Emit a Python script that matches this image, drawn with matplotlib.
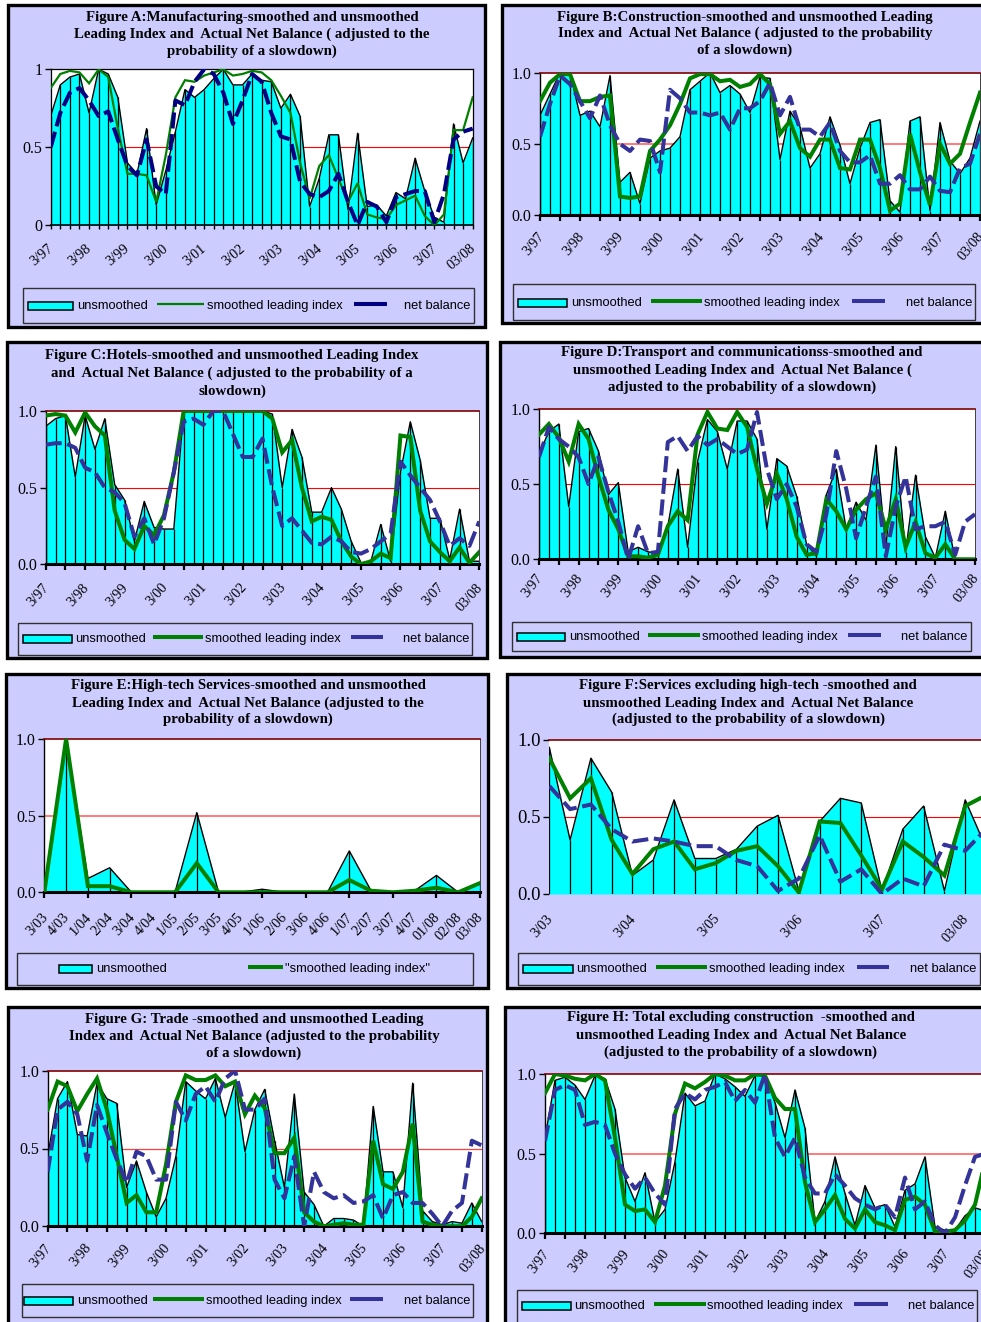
import matplotlib
matplotlib.use("Agg")
import matplotlib.pyplot as plt
from matplotlib.patches import Rectangle
from matplotlib.lines import Line2D
from matplotlib.transforms import ScaledTranslation

# ---------------- data ----------------
quarter_labels = ["3/97", "3/98", "3/99", "3/00", "3/01", "3/02", "3/03",
                  "3/04", "3/05", "3/06", "3/07", "03/08"]
e_labels = ["3/03", "4/03", "1/04", "2/04", "3/04", "4/04", "1/05", "2/05",
            "3/05", "4/05", "1/06", "2/06", "3/06", "4/06", "1/07", "2/07",
            "3/07", "4/07", "01/08", "02/08", "03/08"]
f_labels = ["3/03", "3/04", "3/05", "3/06", "3/07", "03/08"]

a_unsmoothed = [0.70, 0.90, 0.95, 0.97, 0.72, 1.00, 0.97, 0.82, 0.40, 0.33, 0.62, 0.13, 0.35, 0.60, 0.87,
                0.82, 0.87, 0.94, 1.00, 0.90, 0.90, 0.97, 0.93, 0.92, 0.75, 0.84, 0.70, 0.12, 0.30, 0.58,
                0.58, 0.10, 0.59, 0.12, 0.13, 0.06, 0.21, 0.17, 0.43, 0.22, 0.05, 0.02, 0.65, 0.40, 0.56]
a_smoothed = [0.88, 0.97, 0.99, 0.98, 0.91, 1.00, 0.95, 0.62, 0.33, 0.33, 0.32, 0.15, 0.45, 0.82, 0.93,
              0.92, 0.96, 0.98, 1.00, 0.96, 0.97, 0.99, 0.98, 0.93, 0.83, 0.72, 0.40, 0.17, 0.38, 0.45,
              0.30, 0.15, 0.27, 0.07, 0.05, 0.04, 0.13, 0.16, 0.19, 0.06, 0.00, 0.07, 0.61, 0.61, 0.82]
a_net = [0.50, 0.72, 0.85, 0.88, 0.80, 0.70, 0.73, 0.55, 0.38, 0.32, 0.55, 0.25, 0.20, 0.80, 0.77,
         0.92, 1.00, 0.97, 0.85, 0.65, 0.80, 0.97, 0.92, 0.72, 0.57, 0.55, 0.28, 0.20, 0.18, 0.22,
         0.33, 0.15, 0.00, 0.15, 0.12, 0.02, 0.18, 0.20, 0.22, 0.22, 0.02, 0.20, 0.55, 0.60, 0.62]

b_unsmoothed = [0.70, 0.85, 1.00, 1.00, 0.70, 0.73, 0.62, 0.98, 0.23, 0.30, 0.08, 0.40, 0.45, 0.47, 0.55,
                0.88, 0.94, 1.00, 0.86, 0.91, 0.85, 0.72, 0.97, 0.96, 0.39, 0.73, 0.62, 0.33, 0.43, 0.69,
                0.49, 0.22, 0.47, 0.65, 0.67, 0.10, 0.02, 0.66, 0.69, 0.03, 0.65, 0.38, 0.29, 0.40, 0.66]
b_smoothed = [0.80, 0.93, 0.99, 0.99, 0.80, 0.80, 0.83, 0.84, 0.13, 0.12, 0.13, 0.45, 0.53, 0.63, 0.78,
              0.96, 0.99, 0.99, 0.94, 0.95, 0.90, 0.92, 0.99, 0.92, 0.57, 0.66, 0.47, 0.41, 0.53, 0.53,
              0.33, 0.32, 0.53, 0.53, 0.33, 0.03, 0.08, 0.57, 0.30, 0.07, 0.50, 0.36, 0.43, 0.65, 0.86]
b_net = [0.55, 0.78, 0.98, 0.92, 0.80, 0.68, 0.84, 0.63, 0.50, 0.45, 0.53, 0.52, 0.30, 0.88, 0.82,
         0.72, 0.72, 0.70, 0.72, 0.60, 0.75, 0.75, 0.80, 0.93, 0.70, 0.83, 0.60, 0.60, 0.55, 0.65,
         0.45, 0.37, 0.37, 0.42, 0.22, 0.22, 0.28, 0.18, 0.18, 0.27, 0.17, 0.16, 0.33, 0.36, 0.57]

c_unsmoothed = [0.90, 0.95, 0.97, 0.57, 0.97, 0.75, 0.95, 0.52, 0.42, 0.15, 0.41, 0.24, 0.23, 0.23, 1.00,
                1.00, 1.00, 1.00, 1.00, 1.00, 1.00, 1.00, 1.00, 0.98, 0.50, 0.88, 0.70, 0.34, 0.34, 0.50,
                0.36, 0.15, 0.01, 0.02, 0.26, 0.02, 0.60, 0.93, 0.68, 0.30, 0.30, 0.03, 0.36, 0.02, 0.02]
c_smoothed = [0.97, 0.98, 0.97, 0.86, 0.99, 0.90, 0.84, 0.35, 0.16, 0.10, 0.25, 0.19, 0.32, 0.60, 1.00,
              1.00, 1.00, 1.00, 1.00, 1.00, 1.00, 1.00, 1.00, 0.95, 0.73, 0.81, 0.50, 0.28, 0.31, 0.29,
              0.15, 0.05, 0.00, 0.02, 0.07, 0.04, 0.84, 0.83, 0.35, 0.15, 0.08, 0.02, 0.11, 0.01, 0.08]
c_net = [0.78, 0.79, 0.79, 0.76, 0.63, 0.60, 0.50, 0.47, 0.40, 0.18, 0.30, 0.13, 0.30, 0.60, 0.93,
         0.95, 0.91, 1.00, 1.00, 0.85, 0.70, 0.70, 0.82, 0.50, 0.25, 0.30, 0.22, 0.14, 0.13, 0.18,
         0.15, 0.08, 0.07, 0.10, 0.15, 0.20, 0.67, 0.58, 0.50, 0.42, 0.28, 0.12, 0.17, 0.12, 0.28]

d_unsmoothed = [0.70, 0.85, 0.90, 0.35, 0.85, 0.87, 0.72, 0.43, 0.51, 0.05, 0.08, 0.05, 0.04, 0.22, 0.60,
                0.08, 0.65, 0.93, 0.85, 0.60, 0.92, 0.92, 0.80, 0.20, 0.67, 0.62, 0.42, 0.10, 0.02, 0.43,
                0.60, 0.20, 0.38, 0.26, 0.76, 0.08, 0.75, 0.05, 0.56, 0.15, 0.01, 0.32, 0.00, 0.00, 0.00]
d_smoothed = [0.83, 0.90, 0.81, 0.65, 0.90, 0.80, 0.55, 0.33, 0.20, 0.02, 0.02, 0.01, 0.03, 0.22, 0.32,
              0.26, 0.83, 0.98, 0.87, 0.86, 0.98, 0.88, 0.60, 0.37, 0.57, 0.40, 0.15, 0.03, 0.04, 0.40,
              0.32, 0.20, 0.33, 0.40, 0.44, 0.20, 0.40, 0.08, 0.25, 0.04, 0.01, 0.10, 0.00, 0.00, 0.00]
d_net = [0.68, 0.88, 0.80, 0.75, 0.68, 0.50, 0.68, 0.45, 0.25, 0.00, 0.22, 0.04, 0.05, 0.78, 0.82,
         0.72, 0.82, 0.76, 0.80, 0.75, 0.70, 0.73, 0.98, 0.60, 0.40, 0.50, 0.35, 0.10, 0.05, 0.30,
         0.72, 0.47, 0.14, 0.35, 0.55, 0.02, 0.35, 0.55, 0.20, 0.22, 0.22, 0.25, 0.03, 0.25, 0.30]

e_unsmoothed = [0.00, 1.00, 0.09, 0.16, 0.00, 0.00, 0.00, 0.52, 0.00, 0.00, 0.02,
                0.00, 0.00, 0.00, 0.27, 0.01, 0.00, 0.01, 0.11, 0.00, 0.06]
e_smoothed = [0.00, 1.00, 0.04, 0.04, 0.00, 0.00, 0.00, 0.19, 0.00, 0.00, 0.00,
              0.00, 0.00, 0.00, 0.08, 0.01, 0.00, 0.01, 0.03, 0.00, 0.06]

f_unsmoothed = [0.95, 0.35, 0.88, 0.66, 0.12, 0.22, 0.61, 0.23, 0.23, 0.29, 0.44,
                0.51, 0.02, 0.47, 0.62, 0.59, 0.02, 0.42, 0.57, 0.02, 0.61, 0.30]
f_smoothed = [0.88, 0.62, 0.75, 0.35, 0.13, 0.29, 0.34, 0.16, 0.20, 0.28, 0.31,
              0.18, 0.01, 0.47, 0.46, 0.25, 0.03, 0.34, 0.24, 0.12, 0.57, 0.64]
f_net = [0.70, 0.55, 0.58, 0.42, 0.34, 0.36, 0.34, 0.31, 0.31, 0.22, 0.18,
         0.02, 0.10, 0.38, 0.08, 0.16, 0.00, 0.10, 0.05, 0.32, 0.28, 0.42]

g_unsmoothed = [0.45, 0.82, 0.93, 0.59, 0.58, 0.92, 0.82, 0.79, 0.25, 0.42, 0.22, 0.06, 0.18, 0.45, 0.93,
                0.87, 0.82, 0.95, 0.70, 0.93, 0.48, 0.75, 0.88, 0.55, 0.25, 0.85, 0.22, 0.14, 0.00, 0.05,
                0.05, 0.04, 0.00, 0.77, 0.35, 0.35, 0.12, 0.92, 0.10, 0.03, 0.01, 0.03, 0.02, 0.15, 0.03]
g_smoothed = [0.75, 0.93, 0.90, 0.74, 0.85, 0.95, 0.75, 0.45, 0.15, 0.20, 0.09, 0.09, 0.40, 0.80, 0.97,
              0.94, 0.94, 0.97, 0.90, 0.93, 0.72, 0.84, 0.76, 0.47, 0.47, 0.57, 0.09, 0.03, 0.00, 0.01,
              0.02, 0.01, 0.01, 0.55, 0.27, 0.24, 0.35, 0.66, 0.03, 0.01, 0.00, 0.00, 0.00, 0.06, 0.18]
g_net = [0.35, 0.75, 0.80, 0.72, 0.42, 0.78, 0.60, 0.43, 0.28, 0.48, 0.45, 0.30, 0.30, 0.80, 0.68,
         0.85, 0.90, 0.80, 0.95, 1.00, 0.75, 0.75, 0.82, 0.30, 0.18, 0.45, 0.00, 0.35, 0.22, 0.18,
         0.20, 0.15, 0.16, 0.20, 0.05, 0.20, 0.22, 0.15, 0.15, 0.08, 0.00, 0.10, 0.15, 0.55, 0.52]

h_unsmoothed = [0.60, 0.96, 0.98, 0.93, 0.84, 0.99, 0.97, 0.78, 0.35, 0.20, 0.38, 0.07, 0.15, 0.45, 0.88,
                0.80, 0.83, 1.00, 0.97, 0.92, 0.86, 0.99, 0.99, 0.82, 0.60, 0.90, 0.66, 0.07, 0.20, 0.48,
                0.25, 0.05, 0.30, 0.16, 0.18, 0.04, 0.27, 0.31, 0.48, 0.04, 0.02, 0.02, 0.11, 0.16, 0.14]
h_smoothed = [0.88, 1.00, 0.99, 0.97, 0.96, 1.00, 0.96, 0.60, 0.18, 0.14, 0.15, 0.07, 0.30, 0.75, 0.94,
              0.91, 0.95, 1.00, 0.99, 0.96, 0.96, 1.00, 0.99, 0.85, 0.78, 0.78, 0.32, 0.07, 0.15, 0.24,
              0.09, 0.03, 0.15, 0.07, 0.05, 0.02, 0.21, 0.23, 0.18, 0.01, 0.01, 0.02, 0.08, 0.18, 0.45]
h_net = [0.58, 0.90, 0.93, 0.90, 0.68, 0.70, 0.68, 0.50, 0.37, 0.28, 0.35, 0.25, 0.18, 0.78, 0.88,
         0.84, 0.90, 0.92, 0.95, 0.83, 0.90, 0.82, 1.00, 0.60, 0.48, 0.60, 0.35, 0.25, 0.25, 0.37,
         0.30, 0.22, 0.18, 0.15, 0.18, 0.10, 0.35, 0.15, 0.20, 0.05, 0.00, 0.10, 0.30, 0.48, 0.50]

titles = {
    "A": ["Figure A:Manufacturing-smoothed and unsmoothed",
          "Leading Index and  Actual Net Balance ( adjusted to the",
          "probability of a slowdown)"],
    "B": ["Figure B:Construction-smoothed and unsmoothed Leading",
          "Index and  Actual Net Balance ( adjusted to the probability",
          "of a slowdown)"],
    "C": ["Figure C:Hotels-smoothed and unsmoothed Leading Index",
          "and  Actual Net Balance ( adjusted to the probability of a",
          "slowdown)"],
    "D": ["Figure D:Transport and communicationss-smoothed and",
          "unsmoothed Leading Index and  Actual Net Balance (",
          "adjusted to the probability of a slowdown)"],
    "E": ["Figure E:High-tech Services-smoothed and unsmoothed",
          "Leading Index and  Actual Net Balance (adjusted to the",
          "probability of a slowdown)"],
    "F": ["Figure F:Services excluding high-tech -smoothed and",
          "unsmoothed Leading Index and  Actual Net Balance",
          "(adjusted to the probability of a slowdown)"],
    "G": ["Figure G: Trade -smoothed and unsmoothed Leading",
          "Index and  Actual Net Balance (adjusted to the probability",
          "of a slowdown)"],
    "H": ["Figure H: Total excluding construction  -smoothed and",
          "unsmoothed Leading Index and  Actual Net Balance",
          "(adjusted to the probability of a slowdown)"],
}

# ---------------- style ----------------
W, H = 981, 1322
LAV = "#CCCCFF"
CYAN = "#00FFFF"
GREEN = "#008000"
NAVY_A = "#000080"
NAVY = "#333399"
MAROON = "#800000"
SERIF = ["Liberation Serif", "DejaVu Serif"]
SANS = ["Liberation Sans", "DejaVu Sans"]
TITLE_SIZE = 10.7
YTICK_SIZE = 11.5
XTICK_SIZE = 10.3
LEG_SIZE = 9.3

fig = plt.figure(figsize=(W / 100, H / 100), dpi=100)
fig.patch.set_facecolor("white")
label_shift = ScaledTranslation(-0.035, 0, fig.dpi_scale_trans)


def fx(x):
    return x / W


def fy(y):
    return 1 - y / H


def frame(x0, y0, x1, y1, lw, z, fc=LAV, ec="black"):
    r = Rectangle((fx(x0), fy(y1)), (x1 - x0) / W, (y1 - y0) / H,
                  transform=fig.transFigure, facecolor=fc, edgecolor=ec,
                  linewidth=lw, zorder=z)
    fig.add_artist(r)


def hline_fig(x0, x1, y, color, lw, z=3):
    ln = Line2D([fx(x0), fx(x1)], [fy(y), fy(y)], transform=fig.transFigure,
                color=color, linewidth=lw, solid_capstyle="butt", zorder=z)
    fig.add_artist(ln)


quarterly_pos = [0, 4, 8, 12, 16, 20, 24, 28, 32, 36, 40, 44]

panels = [
    dict(key="A", u=a_unsmoothed, s=a_smoothed, nb=a_net, style="A",
         box=(8, 5, 485, 327), plot=(50.7, 69.3, 472.7, 225.3), xmax=44,
         tcx=252, tys=(17, 34, 51), rot=40, xpad=12,
         lbox=(23, 288, 474, 323), lyc=306, lrect=(28, 73), lt1=77,
         lgreen=(157, 204), lt2=207, lnavy=(354, 387), lt3=470,
         xlab=(quarterly_pos, quarter_labels), xticks=list(range(45)),
         ylab=["0", "0.5", "1"], midc="#FF0000", midlw=0.8),
    dict(key="B", u=b_unsmoothed, s=b_smoothed, nb=b_net, style="std",
         box=(502, 5, 995, 323), plot=(540, 72.7, 980, 215), xmax=44,
         tcx=745, tys=(17, 33, 50), rot=50, xpad=11,
         lbox=(513, 284, 975, 320), lyc=303, lrect=(518, 567), lt1=571,
         lgreen=(651, 702), lt2=704, lnavy=(852, 885), lt3=972,
         xlab=(quarterly_pos, quarter_labels), xticks=list(range(0, 45, 2)),
         ylab=["0.0", "0.5", "1.0"], midc="#FF7A7A", midlw=1.4),
    dict(key="C", u=c_unsmoothed, s=c_smoothed, nb=c_net, style="std",
         box=(7, 342, 487, 658), plot=(45.7, 411, 479.3, 564.3), xmax=44,
         tcx=232, tys=(356, 373, 391), rot=48, xpad=12,
         lbox=(18, 623, 472, 655), lyc=639, lrect=(23, 72), lt1=75,
         lgreen=(153, 203), lt2=205, lnavy=(351, 383), lt3=469,
         xlab=(quarterly_pos, quarter_labels), xticks=list(range(0, 45, 2)),
         ylab=["0.0", "0.5", "1.0"], midc="#FF0000", midlw=0.8),
    dict(key="D", u=d_unsmoothed, s=d_smoothed, nb=d_net, style="std",
         box=(500, 342, 995, 657), plot=(539, 409, 975, 559.3), xmax=44,
         tcx=742, tys=(353, 370, 387), rot=52, xpad=9,
         lbox=(512, 622, 971, 651), lyc=637, lrect=(517, 565), lt1=569,
         lgreen=(648, 700), lt2=702, lnavy=(848, 881), lt3=967,
         xlab=(quarterly_pos, quarter_labels), xticks=list(range(0, 45, 2)),
         ylab=["0.0", "0.5", "1.0"], midc="#FF0000", midlw=0.8),
    dict(key="E", u=e_unsmoothed, s=e_smoothed, nb=None, style="std",
         box=(6, 674, 488, 988), plot=(44.3, 739, 480, 892.3), xmax=20,
         tcx=248, tys=(686, 703, 719), rot=47, xpad=13,
         lbox=(17, 953, 473, 985), lyc=969, lrect=(59, 92), lt1=96,
         lgreen=(248, 283), lt2=285, lnavy=None, lt3=None,
         xlab=(list(range(21)), e_labels), xticks=list(range(0, 21, 2)),
         ylab=["0.0", "0.5", "1.0"], midc="#FF7A7A", midlw=1.4),
    dict(key="F", u=f_unsmoothed, s=f_smoothed, nb=f_net, style="F",
         box=(507, 674, 995, 988), plot=(549.3, 739.7, 986, 894), xmax=21,
         tcx=748, tys=(686, 703, 719), rot=48, xpad=13,
         lbox=(518, 953, 980, 985), lyc=969, lrect=(523, 573), lt1=576,
         lgreen=(656, 707), lt2=709, lnavy=(857, 889), lt3=976,
         xlab=([0, 4, 8, 12, 16, 20], f_labels), xticks=[],
         ylab=["0.0", "0.5", "1.0"], midc="#FF0000", midlw=0.8),
    dict(key="G", u=g_unsmoothed, s=g_smoothed, nb=g_net, style="std",
         box=(8, 1007, 487, 1335), plot=(47.7, 1070.7, 481.7, 1226.3), xmax=44,
         tcx=254, tys=(1019, 1036, 1053), rot=50, xpad=11,
         lbox=(22, 1284, 473, 1317), lyc=1301, lrect=(24, 73), lt1=77,
         lgreen=(153, 204), lt2=206, lnavy=(350, 383), lt3=470,
         xlab=(quarterly_pos, quarter_labels), xticks=list(range(0, 45, 2)),
         ylab=["0.0", "0.5", "1.0"], midc="#FF4040", midlw=0.9),
    dict(key="H", u=h_unsmoothed, s=h_smoothed, nb=h_net, style="std",
         box=(505, 1007, 995, 1335), plot=(545, 1074, 985, 1233.3), xmax=44,
         tcx=741, tys=(1018, 1035, 1052), rot=53, xpad=10,
         lbox=(517, 1290, 977, 1330), lyc=1306, lrect=(522, 571), lt1=574,
         lgreen=(654, 706), lt2=707, lnavy=(854, 888), lt3=974,
         xlab=(quarterly_pos, quarter_labels), xticks=list(range(0, 45, 2)),
         ylab=["0.0", "0.5", "1.0"], midc="#FF7A7A", midlw=1.4),
]


def draw_panel(p):
    bx0, by0, bx1, by1 = p["box"]
    frame(bx0, by0, bx1, by1, lw=2.4, z=-3)

    # title
    for line, yy in zip(titles[p["key"]], p["tys"]):
        fig.text(fx(p["tcx"]), fy(yy), line, ha="center", va="center",
                 family=SERIF, weight="bold", size=TITLE_SIZE)

    # plot
    x0, y0, x1, y1 = p["plot"]
    ax = fig.add_axes([fx(x0), fy(y1), (x1 - x0) / W, (y1 - y0) / H])
    ax.set_facecolor("white")
    u = p["u"]
    xs = list(range(len(u)))
    ax.set_xlim(0, p["xmax"])
    ax.set_ylim(0, 1)
    ax.axhline(0.5, color=p["midc"], lw=p["midlw"], zorder=1)
    ax.fill_between(xs, 0, u, color=CYAN, lw=0, zorder=2)
    ax.vlines(xs, 0, u, color="black", lw=0.9, zorder=3)
    ax.plot(xs, u, color="black", lw=1.0, zorder=3)
    green_lw = 1.6 if p["style"] == "A" else 2.9
    ax.plot(xs, p["s"], color=GREEN, lw=green_lw, zorder=4,
            solid_joinstyle="miter")
    if p["nb"] is not None:
        ncol = NAVY_A if p["style"] == "A" else NAVY
        ax.plot(xs, p["nb"], color=ncol, lw=2.9, zorder=5,
                linestyle=(0, (4.0, 1.4)), dash_capstyle="butt")

    # spines
    if p["style"] == "A":
        for sp in ax.spines.values():
            sp.set_color("black")
            sp.set_linewidth(0.9)
        ax.spines["bottom"].set_linewidth(1.2)
    elif p["style"] == "F":
        for k in ("left", "bottom", "right"):
            ax.spines[k].set_visible(False)
        ax.spines["top"].set_color(MAROON)
        ax.spines["top"].set_linewidth(1.2)
    else:
        ax.spines["left"].set_color("black")
        ax.spines["left"].set_linewidth(1.0)
        ax.spines["bottom"].set_color("black")
        ax.spines["bottom"].set_linewidth(2.2)
        ax.spines["top"].set_color(MAROON)
        ax.spines["top"].set_linewidth(1.2)
        ax.spines["right"].set_color("#404040")
        ax.spines["right"].set_linewidth(0.7)

    # y ticks
    ysize = 13.5 if p["style"] == "F" else YTICK_SIZE
    ax.set_yticks([0, 0.5, 1.0])
    ax.set_yticklabels(p["ylab"], family=SERIF, size=ysize)
    ax.tick_params(axis="y", direction="out", length=4, width=1.0, pad=2)

    # x ticks: major = labels (no mark), minor = marks
    pos, labs = p["xlab"]
    ax.xaxis.remove_overlapping_locs = False
    ax.set_xticks(pos)
    ax.set_xticklabels(labs, rotation=p["rot"], ha="right", va="top",
                       rotation_mode="anchor", family=SERIF, size=XTICK_SIZE)
    ax.tick_params(axis="x", which="major", length=0, pad=p["xpad"])
    for lbl in ax.get_xticklabels():
        lbl.set_transform(lbl.get_transform() + label_shift)
    ax.set_xticks(p["xticks"], minor=True)
    if p["style"] == "A":
        ax.tick_params(axis="x", which="minor", direction="out", length=3, width=1.0)
    else:
        ax.tick_params(axis="x", which="minor", direction="out", length=4, width=1.6)

    # legend
    lx0, ly0, lx1, ly1 = p["lbox"]
    frame(lx0, ly0, lx1, ly1, lw=1.0, z=-1, ec="#303030")
    yc = p["lyc"]
    r0, r1 = p["lrect"]
    fig.add_artist(Rectangle((fx(r0), fy(yc + 4)), (r1 - r0) / W, 8 / H,
                             transform=fig.transFigure, facecolor=CYAN,
                             edgecolor="black", linewidth=1.1, zorder=2))
    fig.text(fx(p["lt1"]), fy(yc), "unsmoothed", ha="left", va="center",
             family=SANS, size=LEG_SIZE)
    g0, g1 = p["lgreen"]
    hline_fig(g0, g1, yc - 2, GREEN, green_lw)
    if p["key"] == "E":
        fig.text(fx(p["lt2"]), fy(yc), "\"smoothed leading index\"", ha="left",
                 va="center", family=SANS, size=LEG_SIZE)
    else:
        fig.text(fx(p["lt2"]), fy(yc), "smoothed leading index", ha="left",
                 va="center", family=SANS, size=LEG_SIZE)
    if p["lnavy"] is not None:
        n0, n1 = p["lnavy"]
        ncol = NAVY_A if p["style"] == "A" else NAVY
        hline_fig(n0, n1, yc - 2, ncol, 2.9)
        fig.text(fx(p["lt3"]), fy(yc), "net balance", ha="right", va="center",
                 family=SANS, size=LEG_SIZE)


for p in panels:
    draw_panel(p)

fig.savefig("out.png", dpi=100, facecolor="white")
